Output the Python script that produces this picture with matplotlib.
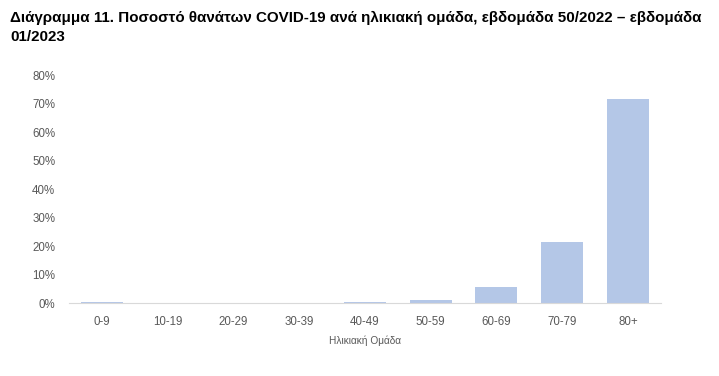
import matplotlib.pyplot as plt
from matplotlib.ticker import PercentFormatter

age_groups = ["0-9", "10-19", "20-29", "30-39", "40-49", "50-59", "60-69", "70-79", "80+"]
death_share = [0.2, 0.0, 0.0, 0.0, 0.3, 1.1, 5.6, 21.4, 71.6]

TITLE = ("Διάγραμμα 11. Ποσοστό θανάτων COVID-19 ανά ηλικιακή ομάδα, εβδομάδα 50/2022 – εβδομάδα\n"
         "01/2023")

plt.rcParams["font.family"] = ["Liberation Sans Narrow", "Liberation Sans", "DejaVu Sans"]

fig = plt.figure(figsize=(7.19, 3.76), dpi=100)
ax = fig.add_axes([0.096, 0.194, 0.823, 0.606])

x = range(len(age_groups))
ax.bar(x, death_share, width=0.64, color="#B4C7E7")

ax.set_xlim(-0.5, len(age_groups) - 0.5)
ax.set_ylim(0, 80)
ax.set_yticks(range(0, 81, 10))
ax.yaxis.set_major_formatter(PercentFormatter(decimals=0))
ax.set_xticks(list(x))
ax.set_xticklabels(age_groups)
ax.tick_params(axis="both", length=0, labelsize=8.3, labelcolor="#595959")
ax.tick_params(axis="x", pad=9)
ax.tick_params(axis="y", pad=10)
for side in ["top", "right", "left"]:
    ax.spines[side].set_visible(False)
ax.spines["bottom"].set_color("#D9D9D9")
ax.set_xlabel("Ηλικιακή Ομάδα", fontsize=7.3, color="#595959", labelpad=6)

fig.text(0.014, 0.972, TITLE, fontsize=10.9, fontweight="bold", va="top", ha="left",
         linespacing=1.5)

fig.savefig("out.png", dpi=100)
